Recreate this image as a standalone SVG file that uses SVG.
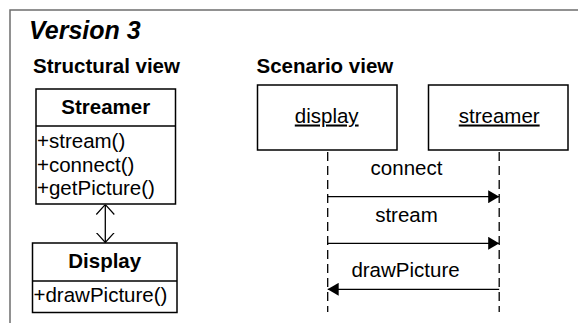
<svg xmlns="http://www.w3.org/2000/svg" width="578" height="323" viewBox="0 0 578 323">
<style>
text{font-family:"Liberation Sans",Arial,sans-serif;fill:#000}
.t{font-size:20.5px}
.b{font-size:20.5px;font-weight:bold}
.box{fill:#fff;stroke:#000;stroke-width:1.5}
.ln{stroke:#000;stroke-width:1.3;fill:none}
.life{stroke:#000;stroke-width:1.3;stroke-dasharray:9 5;fill:none}
</style>
<defs>
<marker id="open" viewBox="0 0 10 20" refX="10" refY="10" markerWidth="10" markerHeight="20" markerUnits="userSpaceOnUse" orient="auto-start-reverse">
<path d="M0,1 L10,10 L0,19" fill="none" stroke="#000" stroke-width="1.2"/>
</marker>
<marker id="fill" viewBox="0 0 11 13" refX="11" refY="6.5" markerWidth="11" markerHeight="13" markerUnits="userSpaceOnUse" orient="auto">
<path d="M0,0 L11,6.5 L0,13 Z" fill="#000"/>
</marker>
</defs>
<rect width="578" height="323" fill="#fff"/>
<path d="M10,323 V10 H578" fill="none" stroke="#6e6e6e" stroke-width="1.5"/>
<text x="29" y="39" style="font-size:25px;font-weight:bold;font-style:italic">Version 3</text>
<text x="33" y="73" class="b">Structural view</text>
<text x="256.5" y="73" class="b">Scenario view</text>

<g id="Streamer">
<rect class="box" x="36" y="89" width="139.5" height="115"/>
<line class="ln" x1="36" y1="126" x2="175.5" y2="126" stroke-width="1.5"/>
<text x="105.7" y="114" class="b" text-anchor="middle">Streamer</text>
<text x="37" y="148" class="t">+stream()</text>
<text x="37" y="171.5" class="t">+connect()</text>
<text x="37" y="195" class="t">+getPicture()</text>
</g>

<g id="Display">
<rect class="box" x="32.5" y="243" width="144.5" height="69.5"/>
<line class="ln" x1="32.5" y1="281" x2="177" y2="281" stroke-width="1.5"/>
<text x="104.7" y="268" class="b" text-anchor="middle">Display</text>
<text x="33.5" y="302" class="t">+drawPicture()</text>
</g>

<g id="display">
<rect class="box" x="257.5" y="85" width="139.5" height="65"/>
<text x="326.7" y="122.5" class="t" text-anchor="middle" text-decoration="underline">display</text>
</g>

<g id="streamer">
<rect class="box" x="428.5" y="85" width="139.5" height="65"/>
<text x="499.2" y="122.5" class="t" text-anchor="middle" text-decoration="underline">streamer</text>
</g>

<g id="connectors">
<line class="ln" x1="105.3" y1="204.5" x2="105.3" y2="242.5" marker-start="url(#open)" marker-end="url(#open)"/>
<line class="life" x1="327.7" y1="152" x2="327.7" y2="312"/>
<line class="life" x1="499.2" y1="152" x2="499.2" y2="312"/>
<line class="ln" x1="327.7" y1="196.7" x2="499.2" y2="196.7" marker-end="url(#fill)"/>
<line class="ln" x1="327.7" y1="243.3" x2="499.2" y2="243.3" marker-end="url(#fill)"/>
<line class="ln" x1="499.2" y1="289.3" x2="327.7" y2="289.3" marker-end="url(#fill)"/>
<text x="406.5" y="175" class="t" text-anchor="middle">connect</text>
<text x="406.5" y="221.7" class="t" text-anchor="middle">stream</text>
<text x="405.5" y="276.7" class="t" text-anchor="middle">drawPicture</text>
</g>
</svg>
